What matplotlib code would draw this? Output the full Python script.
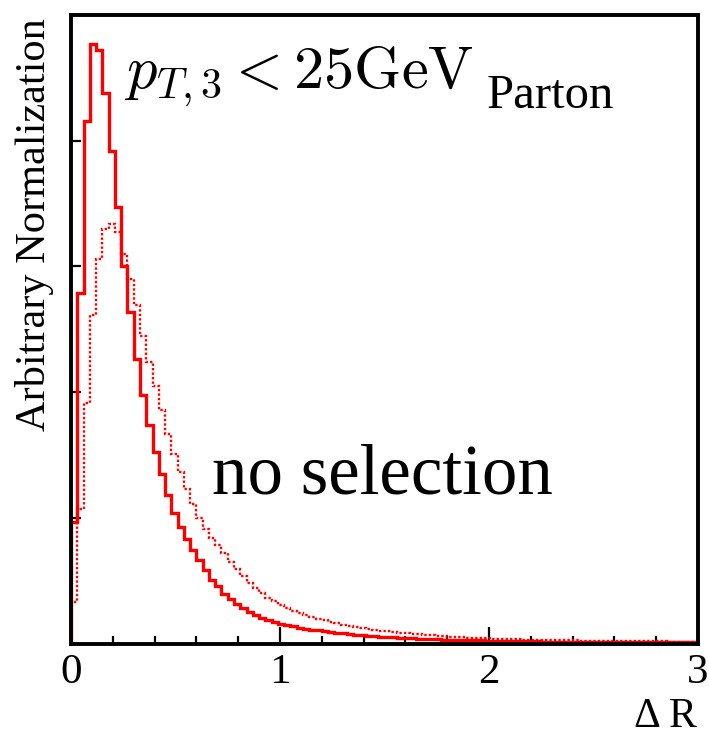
import numpy as np
import matplotlib
matplotlib.use("Agg")
import matplotlib.pyplot as plt
from matplotlib.ticker import MultipleLocator, NullFormatter

# ---- data ----
x_min, x_max, n_bins = 0.0, 3.0, 100

pt_cut = [
    0.966, 2.79, 4.156, 4.767, 4.72, 4.38, 3.92, 3.47, 3.00, 2.64,
    2.26, 1.975, 1.741, 1.523, 1.351, 1.184, 1.037, 0.926, 0.828, 0.740,
    0.666, 0.587, 0.507, 0.454, 0.396, 0.356, 0.316, 0.281, 0.249, 0.223,
    0.201, 0.183, 0.170, 0.158, 0.146, 0.136, 0.127, 0.118, 0.110, 0.104,
    0.098, 0.091, 0.085, 0.080, 0.075, 0.071, 0.067, 0.063, 0.059, 0.055,
    0.052, 0.049, 0.046, 0.043, 0.041, 0.039, 0.037, 0.035, 0.033, 0.031,
    0.029, 0.028, 0.027, 0.026, 0.025, 0.024, 0.023, 0.022, 0.021, 0.020,
    0.019, 0.018, 0.017, 0.016, 0.016, 0.015, 0.015, 0.014, 0.014, 0.013,
    0.013, 0.012, 0.012, 0.012, 0.011, 0.011, 0.011, 0.010, 0.010, 0.010,
    0.010, 0.009, 0.009, 0.009, 0.009, 0.008, 0.008, 0.008, 0.008, 0.008,
]

no_selection = [
    0.33, 1.07, 1.91, 2.61, 3.06, 3.30, 3.34, 3.27, 3.10, 2.90,
    2.69, 2.45, 2.24, 2.05, 1.855, 1.67, 1.51, 1.364, 1.232, 1.112,
    1.00, 0.91, 0.84, 0.78, 0.72, 0.65, 0.59, 0.535, 0.485, 0.44,
    0.40, 0.365, 0.335, 0.305, 0.28, 0.26, 0.24, 0.225, 0.21, 0.197,
    0.185, 0.172, 0.16, 0.15, 0.14, 0.13, 0.123, 0.116, 0.109, 0.103,
    0.097, 0.091, 0.086, 0.081, 0.076, 0.072, 0.068, 0.064, 0.060, 0.057,
    0.054, 0.051, 0.048, 0.046, 0.044, 0.042, 0.040, 0.038, 0.036, 0.035,
    0.034, 0.032, 0.031, 0.030, 0.029, 0.028, 0.027, 0.026, 0.025, 0.024,
    0.024, 0.023, 0.022, 0.022, 0.021, 0.020, 0.020, 0.019, 0.019, 0.018,
    0.018, 0.017, 0.017, 0.016, 0.016, 0.015, 0.015, 0.015, 0.014, 0.014,
]

x_ticks = [0, 1, 2, 3]
x_tick_labels = ["0", "1", "2", "3"]
y_ticks = [1, 2, 3, 4]
y_max = 5.0

# ---- figure ----
plt.rcParams['font.family'] = ['Liberation Serif', 'DejaVu Serif']
plt.rcParams['mathtext.fontset'] = 'cm'

W, H = 709, 736
fig = plt.figure(figsize=(W / 100, H / 100), dpi=100)
ax = fig.add_axes([71 / W, 1 - 643.5 / H, (698 - 71) / W, (643.5 - 15) / H])

edges = np.linspace(x_min, x_max, n_bins + 1)
ax.stairs(no_selection, edges, baseline=0, color='#ff0000', lw=1.7,
          linestyle=(0, (1.0, 0.9)), zorder=2)
ax.stairs(pt_cut, edges, baseline=0, color='#ff0000', lw=2.4, zorder=3)

ax.set_xlim(x_min, x_max)
ax.set_ylim(0, y_max)

for s in ax.spines.values():
    s.set_linewidth(2.8)
    s.set_zorder(5)

ax.set_xticks(x_ticks)
ax.set_xticklabels(x_tick_labels)
ax.xaxis.set_minor_locator(MultipleLocator(0.2))
ax.set_yticks(y_ticks)
ax.yaxis.set_major_formatter(NullFormatter())
ax.tick_params(axis='x', which='major', direction='in', length=12, width=1.6,
               labelsize=31, pad=7, top=False)
ax.tick_params(axis='x', which='minor', direction='in', length=6, width=1.6,
               top=False)
ax.tick_params(axis='y', which='major', direction='in', length=7, width=1.6,
               right=False)
ax.tick_params(axis='y', which='minor', left=False, right=False)

# ---- text ----
fig.text(124 / W, 1 - 88 / H, r"$p_{T,3} < 25\mathrm{GeV}$", fontsize=43.5,
         ha='left', va='baseline')
fig.text(487 / W, 1 - 108 / H, "Parton", fontsize=35, ha='left',
         va='baseline')
fig.text(212 / W, 1 - 493 / H, "no selection", fontsize=51, ha='left',
         va='baseline')
fig.text(35 / W, 1 - 18 / H, "Arbitrary Normalization", fontsize=30.5,
         rotation=90, ha='center', va='top')
fig.text(697 / W, 1 - 727 / H, "\u0394 R", fontsize=30, ha='right',
         va='baseline')

fig.savefig("out.png", dpi=100, facecolor='white')
